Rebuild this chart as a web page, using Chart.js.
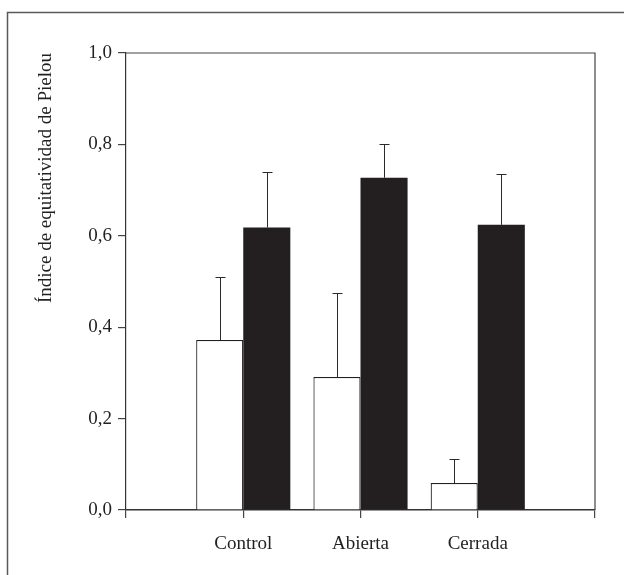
<!DOCTYPE html>
<html><head><meta charset="utf-8">
<script src="https://cdn.jsdelivr.net/npm/chart.js@4.4.0/dist/chart.umd.min.js"></script>
<style>html,body{margin:0;padding:0;background:#fff;}#wrap{width:624px;height:575px;position:relative;}</style>
</head><body><div id="wrap"><canvas id="c" width="624" height="575"></canvas></div>
<script>
const categories = ['', 'Control', 'Abierta', 'Cerrada', ''];
const whiteValues = [null, 0.372, 0.291, 0.059, null];
const whiteErrors = [null, 0.138, 0.184, 0.053, null];
const blackValues = [null, 0.618, 0.727, 0.624, null];
const blackErrors = [null, 0.122, 0.074, 0.111, null];
const yTicks = [0, 0.2, 0.4, 0.6, 0.8, 1.0];
const yTitle = 'Índice de equitatividad de Pielou';

const INK = '#231f20';
const FONT = "'Liberation Serif', 'Times New Roman', serif";

const framePlugin = {
  id: 'frame',
  beforeDraw(chart) {
    const ctx = chart.ctx;
    ctx.save();
    ctx.strokeStyle = '#5a5a5a';
    ctx.lineWidth = 1.5;
    ctx.beginPath();
    ctx.moveTo(7.5, chart.height);
    ctx.lineTo(7.5, 12.5);
    ctx.lineTo(chart.width, 12.5);
    ctx.stroke();
    ctx.restore();
  },
  afterDraw(chart) {
    const a = chart.chartArea, ctx = chart.ctx;
    ctx.save();
    ctx.strokeStyle = '#444';
    ctx.lineWidth = 1.2;
    ctx.beginPath();
    ctx.moveTo(a.left, a.top);
    ctx.lineTo(a.right, a.top);
    ctx.lineTo(a.right, a.bottom);
    ctx.stroke();
    ctx.restore();
  }
};

const errorPlugin = {
  id: 'errbars',
  afterDatasetsDraw(chart) {
    const ctx = chart.ctx, ys = chart.scales.y;
    const sets = [[whiteValues, whiteErrors], [blackValues, blackErrors]];
    ctx.save();
    ctx.strokeStyle = '#2a2a2a';
    ctx.lineWidth = 1;
    sets.forEach((s, i) => {
      const meta = chart.getDatasetMeta(i);
      s[0].forEach((v, j) => {
        if (v == null) return;
        const bar = meta.data[j];
        const x = Math.round(bar.x) + 0.5;
        const y0 = ys.getPixelForValue(v);
        const y1 = Math.round(ys.getPixelForValue(v + s[1][j])) + 0.5;
        ctx.beginPath();
        ctx.moveTo(x, y0);
        ctx.lineTo(x, y1);
        ctx.moveTo(x - 5, y1);
        ctx.lineTo(x + 5, y1);
        ctx.stroke();
      });
    });
    ctx.restore();
  }
};

new Chart(document.getElementById('c'), {
  type: 'bar',
  data: {
    labels: categories,
    datasets: [
      { data: whiteValues, backgroundColor: '#ffffff', borderColor: INK, borderWidth: 1.2, borderSkipped: 'start' },
      { data: blackValues, backgroundColor: INK, borderColor: INK, borderWidth: 0 }
    ]
  },
  options: {
    responsive: false,
    animation: false,
    events: [],
    layout: { padding: { left: 0, top: 53, right: 29, bottom: 0 } },
    plugins: { legend: { display: false }, tooltip: { enabled: false } },
    datasets: { bar: { categoryPercentage: 0.803, barPercentage: 1.0 } },
    scales: {
      x: {
        type: 'category',
        offset: false,
        afterFit(s) { s.height = 65; },
        grid: { offset: false, drawOnChartArea: false, drawTicks: true, tickLength: 8, color: '#444', lineWidth: 1.2 },
        border: { display: true, color: '#333', width: 1.5 },
        ticks: { color: INK, font: { family: FONT, size: 19 }, padding: 15, maxRotation: 0, autoSkip: false }
      },
      y: {
        min: 0, max: 1,
        afterFit(s) { s.width = 126; },
        afterBuildTicks(s) { s.ticks = yTicks.map(v => ({ value: v })); },
        grid: { drawOnChartArea: false, drawTicks: true, tickLength: 8, color: '#444', lineWidth: 1.2 },
        border: { display: true, color: '#333', width: 1.2 },
        ticks: {
          color: INK, font: { family: FONT, size: 19 }, padding: 6,
          callback: v => v.toFixed(1).replace('.', ',')
        },
        title: { display: true, text: yTitle, align: 'end', color: INK, font: { family: FONT, size: 19 }, padding: { top: 35, bottom: 0 } }
      }
    }
  },
  plugins: [framePlugin, errorPlugin]
});
</script></body></html>
